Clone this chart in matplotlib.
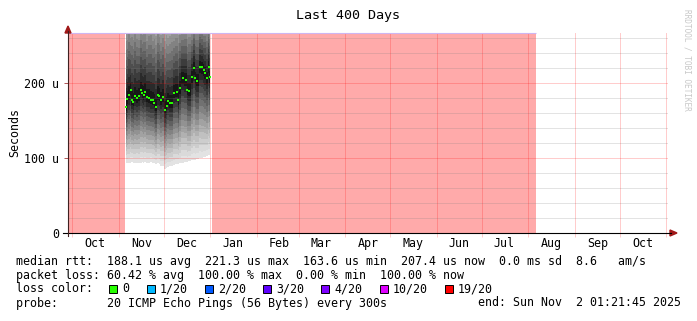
from datetime import datetime, timedelta
import numpy as np
import matplotlib
matplotlib.use("Agg")
import matplotlib.pyplot as plt
import matplotlib.dates as mdates
from matplotlib.patches import Rectangle, Polygon
from matplotlib.lines import Line2D

END = datetime(2025, 11, 2, 1, 21, 45)
START = END - timedelta(days=400)

# rows with answers, as days before END
days_ago = [361.3, 360.5, 359.3, 358.2, 357.5, 356.5, 355.3, 353.8, 352.7, 351.5,
            350.5, 349.5, 348.7, 347.5, 346.0, 344.9, 343.5, 342.5, 341.3, 340.0,
            339.1, 338.0, 336.9, 335.3, 334.2, 333.3, 332.0, 330.9, 329.3, 327.5,
            326.5, 325.3, 323.5, 321.5, 320.5, 319.3, 317.3, 316.0, 315.1, 313.8,
            312.0, 310.9, 309.5, 308.7, 307.5, 306.2, 305.3]
# median rtt, microseconds
median_us = [167.6, 178.7, 184.0, 190.7, 177.0, 175.0, 182.7, 179.6, 182.7, 190.7,
             187.0, 184.0, 188.4, 181.0, 179.6, 177.3, 177.3, 173.8, 167.6, 184.0,
             182.7, 177.3, 181.0, 164.0, 169.3, 176.4, 172.9, 172.9, 187.0, 188.4,
             177.3, 192.9, 206.2, 204.0, 190.7, 189.8, 208.4, 219.6, 206.2, 203.0,
             221.8, 220.9, 217.3, 212.9, 206.2, 221.8, 207.6]
# fastest and slowest ping of each row (smoke edges), microseconds
smoke_lo_us = [94, 93, 93, 94, 95, 94, 93, 94, 93, 94,
               95, 94, 95, 94, 94, 95, 94, 93, 92, 93,
               92, 90, 90, 86, 87, 88, 89, 90, 91, 92,
               92, 93, 94, 95, 95, 96, 97, 98, 98, 99,
               100, 100, 101, 102, 103, 104, 104]
smoke_hi_us = [345, 335, 350, 330, 345, 340, 350, 338, 332, 346,
               340, 348, 342, 330, 345, 350, 336, 344, 334, 346,
               340, 330, 338, 326, 334, 322, 330, 336, 326, 332,
               330, 334, 326, 332, 326, 334, 324, 332, 326, 330,
               334, 326, 322, 330, 324, 332, 326]

# periods with 100 % packet loss
loss_spans = [("2024-09-28 01:21", "2024-11-04 20:30"),
              ("2025-01-01 22:00", "2025-08-05 20:40")]

month_names = ['Oct', 'Nov', 'Dec', 'Jan', 'Feb', 'Mar', 'Apr',
               'May', 'Jun', 'Jul', 'Aug', 'Sep', 'Oct']

legend_rtt = "median rtt:  188.1 us avg  221.3 us max  163.6 us min  207.4 us now  0.0 ms sd  8.6   am/s"
legend_loss = "packet loss: 60.42 % avg  100.00 % max  0.00 % min  100.00 % now"
loss_labels = ['0', '1/20', '2/20', '3/20', '4/20', '10/20', '19/20']
loss_colors = ['#26ff00', '#00b8ff', '#0059ff', '#5e00ff', '#7e00ff', '#dd00ff', '#ff0000']
probe_text = "probe:       20 ICMP Echo Pings (56 Bytes) every 300s"
end_text = "end: Sun Nov  2 01:21:45 2025"

W, H = 697, 321
MONO = 'DejaVu Sans Mono'
YMAX = 266.7
MGRID = (1, 0, 0, 0.2)
GRID = (0.5, 0.5, 0.5, 0.22)


def fx(px):
    return px / W


def fy(py):
    return 1 - py / H


def main():
    fig = plt.figure(figsize=(W / 100, H / 100), dpi=100)
    fig.patch.set_facecolor('white')
    ax = fig.add_axes([fx(68), fy(233), 600 / W, 200 / H])
    for s in ax.spines.values():
        s.set_visible(False)

    x0 = mdates.date2num(START)
    x1 = mdates.date2num(END)
    ax.set_xlim(x0, x1)
    ax.set_ylim(0, YMAX)

    # loss background
    for a, b in loss_spans:
        ta = mdates.date2num(datetime.strptime(a, "%Y-%m-%d %H:%M"))
        tb = mdates.date2num(datetime.strptime(b, "%Y-%m-%d %H:%M"))
        ax.axvspan(max(ta, x0), tb, color='#ffaaaa', lw=0, zorder=1)
    last_loss = mdates.date2num(datetime.strptime(loss_spans[-1][1], "%Y-%m-%d %H:%M"))
    ax.plot([x0, last_loss], [YMAX, YMAX], color='#cdb6f2', lw=0.8,
            zorder=5, clip_on=False, solid_capstyle='butt')

    # smoke
    t = np.array([mdates.date2num(END - timedelta(days=d)) for d in days_ago])
    med = np.array(median_us)
    lo = np.array(smoke_lo_us, dtype=float)
    hi = np.array(smoke_hi_us, dtype=float)
    nb = 14
    for k in range(nb):
        f = k / nb
        g = 0.89 - 0.8 * (k / (nb - 1)) ** 1.2
        ax.fill_between(t, lo + (med - lo) * f, hi - (hi - med) * f, step='mid',
                        color=(g, g, g), lw=0, zorder=2)
    ax.plot(t, med, 's', color='#26ff00', ms=1.9, mew=0, zorder=6)

    # grid
    for v in range(20, 270, 20):
        ax.axhline(v, color=MGRID if v % 100 == 0 else GRID, lw=0.72, zorder=3)
    month_starts = []
    mid_months = []
    y, m = 2024, 10
    for i in range(14):
        month_starts.append(mdates.date2num(datetime(y, m, 1)))
        if i < 13:
            mid_months.append(mdates.date2num(datetime(y, m, 16)))
        m += 1
        if m > 12:
            m, y = 1, y + 1
    for ms in month_starts:
        ax.axvline(ms, color=MGRID, lw=0.72, zorder=3)

    ax.set_xticks(month_starts)
    ax.set_xticklabels([])
    ax.set_xticks(mid_months, minor=True)
    ax.set_xticklabels(month_names, minor=True, family=MONO, fontsize=8.4)
    ax.tick_params(axis='x', which='major', length=3, width=0.72, color=MGRID)
    ax.tick_params(axis='x', which='minor', length=0, pad=3)
    ax.set_yticks([0, 100, 200])
    ax.set_yticklabels(['0', '100 u', '200 u'], family=MONO, fontsize=8.4)
    ax.tick_params(axis='y', length=3, width=0.72, pad=3.5, color=(0.7, 0.35, 0.35))

    # axes with arrows
    fig.add_artist(Line2D([fx(63), fx(671)], [fy(233), fy(233)], color='black', lw=0.8))
    fig.add_artist(Line2D([fx(68), fx(68)], [fy(236), fy(31)], color='#402020', lw=0.8))
    fig.add_artist(Polygon([(fx(670), fy(230)), (fx(677), fy(233)), (fx(670), fy(236))],
                           closed=True, color='#a01818', transform=fig.transFigure))
    fig.add_artist(Polygon([(fx(65), fy(33)), (fx(68), fy(26)), (fx(71), fy(33))],
                           closed=True, color='#a01818', transform=fig.transFigure))

    # texts
    fig.text(fx(348), fy(16), 'Last 400 Days', ha='center', va='center',
             family=MONO, fontsize=9.6)
    fig.text(fx(15), fy(133), 'Seconds', rotation=90, ha='center', va='center',
             family=MONO, fontsize=8.4)
    fig.text(fx(687), fy(60), 'RRDTOOL / TOBI OETIKER', rotation=270, ha='center',
             va='center', family=MONO, fontsize=5.6, color='#c8c8c8')

    fig.text(fx(16), fy(261), legend_rtt, ha='left', va='center', family=MONO, fontsize=8.4)
    fig.text(fx(16), fy(275), legend_loss, ha='left', va='center', family=MONO, fontsize=8.4)
    fig.text(fx(16), fy(289), 'loss color:', ha='left', va='center', family=MONO, fontsize=8.4)
    box_x = [109, 147, 205, 263, 321, 379.5, 444.5]
    for bx, lab, c in zip(box_x, loss_labels, loss_colors):
        fig.add_artist(Rectangle((fx(bx), fy(293)), 8 / W, 8 / H, transform=fig.transFigure,
                                 facecolor=c, edgecolor='black', lw=0.7))
        fig.text(fx(bx + 13), fy(289), lab, ha='left', va='center', family=MONO, fontsize=8.4)
    fig.text(fx(16), fy(303), probe_text, ha='left', va='center', family=MONO, fontsize=8.4)
    fig.text(fx(681), fy(303), end_text, ha='right', va='center', family=MONO, fontsize=8.4)

    fig.savefig('out.png', dpi=100, facecolor='white')


if __name__ == "__main__":
    main()
